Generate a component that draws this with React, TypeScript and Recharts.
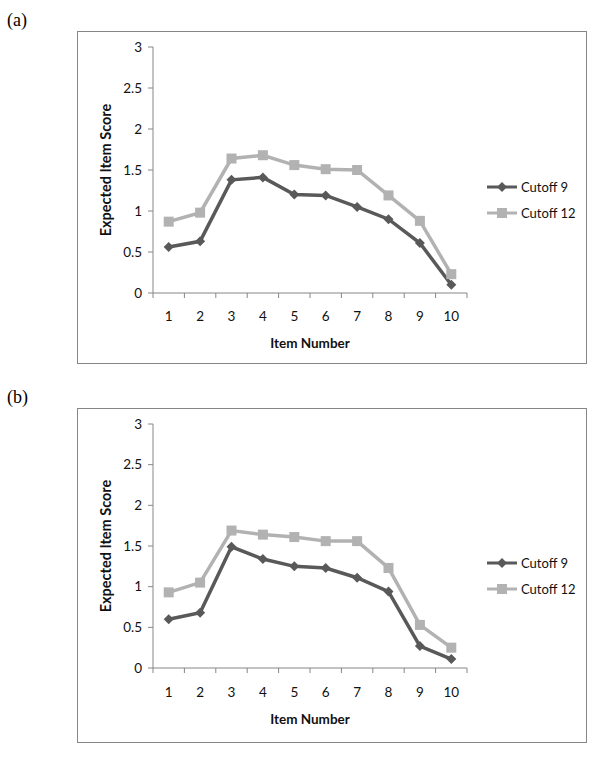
import { LineChart, Line, XAxis, YAxis, Legend } from "recharts";

const ITEMS = [1, 2, 3, 4, 5, 6, 7, 8, 9, 10];
const Y_TICKS = [0, 0.5, 1, 1.5, 2, 2.5, 3];

// panel (a)
const A_CUTOFF_9 = [0.56, 0.63, 1.38, 1.41, 1.2, 1.19, 1.05, 0.9, 0.61, 0.1];
const A_CUTOFF_12 = [0.87, 0.98, 1.64, 1.68, 1.56, 1.51, 1.5, 1.19, 0.88, 0.23];

// panel (b)
const B_CUTOFF_9 = [0.6, 0.68, 1.49, 1.34, 1.25, 1.23, 1.11, 0.94, 0.27, 0.11];
const B_CUTOFF_12 = [0.93, 1.05, 1.69, 1.64, 1.61, 1.56, 1.56, 1.23, 0.53, 0.25];

const SERIES_ORDER = ["c9", "c12"];

const DARK = "#595959";
const LIGHT = "#b2b2b2";
const AXIS = "#868686";
const FONT = "Lato, 'Open Sans', sans-serif";

const BOX_W = 510;
const Y_AXIS_W = 76;
const PLOT_W = 314;

const Diamond = ({ cx, cy, color, r = 5 }: any) => (
  <polygon
    points={`${cx},${cy - r} ${cx + r},${cy} ${cx},${cy + r} ${cx - r},${cy}`}
    fill={color}
  />
);

const Square = ({ cx, cy, color, r = 5 }: any) => (
  <rect x={cx - r} y={cy - r} width={r * 2} height={r * 2} fill={color} />
);

// Excel style category axis: ticks between items, labels centred
const ItemTick = ({ x, y, payload, index, labelDy }: any) => {
  const half = PLOT_W / ITEMS.length / 2;
  return (
    <g>
      <line x1={x - half} x2={x - half} y1={y} y2={y + 5} stroke={AXIS} />
      {index === ITEMS.length - 1 && (
        <line x1={x + half} x2={x + half} y1={y} y2={y + 5} stroke={AXIS} />
      )}
      <text
        x={x}
        y={y + labelDy}
        textAnchor="middle"
        dominantBaseline="central"
        fontFamily={FONT}
        fontSize={13.5}
        fill="#111"
      >
        {payload.value}
      </text>
    </g>
  );
};

const LegendBox = ({ payload }: any) => {
  const entries = [...(payload || [])].sort(
    (a: any, b: any) => SERIES_ORDER.indexOf(a.dataKey) - SERIES_ORDER.indexOf(b.dataKey)
  );
  return (
    <div style={{ fontFamily: FONT, fontSize: 13, color: "#111" }}>
      {entries.map((entry: any) => (
        <div
          key={entry.value}
          style={{ display: "flex", alignItems: "center", height: 26 }}
        >
          <svg width={32} height={12} style={{ marginRight: 2 }}>
            <line x1={0} x2={30} y1={6} y2={6} stroke={entry.color} strokeWidth={3} />
            {entry.dataKey === "c9" ? (
              <Diamond cx={15} cy={6} color={entry.color} />
            ) : (
              <Square cx={15} cy={6} color={entry.color} />
            )}
          </svg>
          <span>{entry.value}</span>
        </div>
      ))}
    </div>
  );
};

interface PanelProps {
  letter: string;
  top: number;
  height: number;
  xAxisH: number;
  cut9: number[];
  cut12: number[];
  labelDy: number;
  titleDy: number;
  legendTop: number;
}

function Panel({ letter, top, height, xAxisH, cut9, cut12, labelDy, titleDy, legendTop }: PanelProps) {
  const data = ITEMS.map((item, i) => ({ item, c9: cut9[i], c12: cut12[i] }));

  return (
    <>
      <div
        style={{
          position: "absolute",
          left: 7,
          top: top - 20,
          fontFamily: "'Liberation Serif', serif",
          fontSize: 18,
          lineHeight: "18px",
        }}
      >
        {letter}
      </div>
      <div
        style={{
          position: "absolute",
          left: 77,
          top,
          width: BOX_W,
          height,
          boxSizing: "border-box",
          border: `1px solid ${AXIS}`,
        }}
      />
      <div style={{ position: "absolute", left: 77, top }}>
        <LineChart
          width={BOX_W}
          height={height}
          data={data}
          margin={{ top: 16, right: 20, bottom: 0, left: 0 }}
        >
          <XAxis
            dataKey="item"
            type="number"
            domain={[0.5, 10.5]}
            ticks={ITEMS}
            interval={0}
            height={xAxisH}
            tickSize={0}
            tickMargin={0}
            tickLine={false}
            axisLine={{ stroke: AXIS }}
            tick={(p: any) => <ItemTick key={p.index} {...p} labelDy={labelDy} />}
            label={{
              content: (p: any) => {
                const vb = p.viewBox;
                return (
                  <text
                    x={vb.x + vb.width / 2}
                    y={vb.y + titleDy}
                    textAnchor="middle"
                    dominantBaseline="central"
                    fontFamily={FONT}
                    fontWeight="bold"
                    fontSize={13.5}
                    fill="#111"
                  >
                    Item Number
                  </text>
                );
              },
            }}
          />
          <YAxis
            domain={[0, 3]}
            ticks={Y_TICKS}
            interval={0}
            width={Y_AXIS_W}
            tickSize={5}
            tickMargin={6}
            tickLine={{ stroke: AXIS }}
            axisLine={{ stroke: AXIS }}
            tick={{ fill: "#111", fontFamily: FONT, fontSize: 13.5 }}
            label={{
              content: (p: any) => {
                const vb = p.viewBox;
                const cx = vb.x + 28;
                const cy = vb.y + vb.height / 2;
                return (
                  <text
                    x={cx}
                    y={cy}
                    transform={`rotate(-90 ${cx} ${cy})`}
                    textAnchor="middle"
                    dominantBaseline="central"
                    fontFamily={FONT}
                    fontWeight="bold"
                    fontSize={14.5}
                    fill="#111"
                  >
                    Expected Item Score
                  </text>
                );
              },
            }}
          />
          <Legend
            layout="vertical"
            align="right"
            verticalAlign="top"
            width={100}
            wrapperStyle={{ left: 410, right: "auto", top: legendTop }}
            content={<LegendBox />}
          />
          <Line
            name="Cutoff 9"
            dataKey="c9"
            stroke={DARK}
            strokeWidth={3.5}
            isAnimationActive={false}
            dot={(p: any) => <Diamond key={p.index} cx={p.cx} cy={p.cy} color={DARK} />}
            activeDot={false}
          />
          <Line
            name="Cutoff 12"
            dataKey="c12"
            stroke={LIGHT}
            strokeWidth={3.5}
            isAnimationActive={false}
            dot={(p: any) => <Square key={p.index} cx={p.cx} cy={p.cy} color={LIGHT} />}
            activeDot={false}
          />
        </LineChart>
      </div>
    </>
  );
}

export default function App() {
  return (
    <div style={{ position: "absolute", left: 0, top: 0, width: 600, height: 758, background: "#fff" }}>
      <Panel
        letter="(a)"
        top={31}
        height={333}
        xAxisH={71}
        cut9={A_CUTOFF_9}
        cut12={A_CUTOFF_12}
        labelDy={23}
        titleDy={50}
        legendTop={143}
      />
      <Panel
        letter="(b)"
        top={408}
        height={335}
        xAxisH={75}
        cut9={B_CUTOFF_9}
        cut12={B_CUTOFF_12}
        labelDy={24}
        titleDy={51}
        legendTop={142}
      />
    </div>
  );
}
